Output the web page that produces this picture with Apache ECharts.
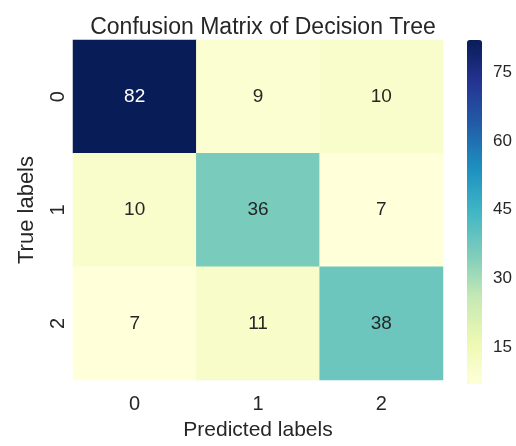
<!DOCTYPE html>
<html>
<head>
<meta charset="utf-8">
<script src="https://cdn.jsdelivr.net/npm/echarts@6/dist/echarts.min.js"></script>
<style>
  html, body { margin: 0; padding: 0; background: #fff; }
  #chart { width: 516px; height: 446px; }
</style>
</head>
<body>
<div id="chart"></div>
<script>
// confusion matrix values, rows = true label, cols = predicted label
const predictedLabels = ['0', '1', '2'];
const trueLabels = ['0', '1', '2'];
const matrix = [
  [82, 9, 10],
  [10, 36, 7],
  [7, 11, 38]
];
const colorbarTicks = [15, 30, 45, 60, 75];
const ylgnbu = ['#ffffd9', '#edf8b1', '#c7e9b4', '#7fcdbb', '#41b6c4', '#1d91c0', '#225ea8', '#253494', '#081d58'];

const vmin = 7, vmax = 82;
const textColor = '#262626';
const font = 'Liberation Sans, Arial, sans-serif';

const cells = [];
matrix.forEach((row, r) => {
  row.forEach((v, c) => {
    cells.push({
      value: [c, r, v],
      label: { color: v > 60 ? '#ffffff' : textColor }
    });
  });
});

const chart = echarts.init(document.getElementById('chart'));
chart.setOption({
  animation: false,
  title: {
    text: 'Confusion Matrix of Decision Tree',
    left: 258,
    textAlign: 'center',
    top: 11,
    textStyle: { fontFamily: font, fontSize: 23, fontWeight: 'normal', color: textColor }
  },
  grid: [
    { left: 73, right: 73, top: 40, bottom: 62 },
    { left: 467, width: 15, top: 40, bottom: 62 }
  ],
  xAxis: [
    {
      type: 'category',
      data: predictedLabels,
      gridIndex: 0,
      name: 'Predicted labels',
      nameLocation: 'middle',
      nameGap: 40,
      nameTextStyle: { fontFamily: font, fontSize: 21, color: textColor },
      axisLine: { show: false },
      axisTick: { show: false },
      splitLine: { show: false },
      axisLabel: { fontFamily: font, fontSize: 20, color: textColor, margin: 14 }
    },
    { type: 'value', gridIndex: 1, show: false }
  ],
  yAxis: [
    {
      type: 'category',
      data: trueLabels,
      inverse: true,
      gridIndex: 0,
      name: 'True labels',
      nameLocation: 'middle',
      nameGap: 35,
      nameTextStyle: { fontFamily: font, fontSize: 22, color: textColor },
      axisLine: { show: false },
      axisTick: { show: false },
      splitLine: { show: false },
      axisLabel: { fontFamily: font, fontSize: 20, color: textColor, rotate: 90, margin: 5 }
    },
    {
      type: 'value',
      gridIndex: 1,
      position: 'right',
      min: vmin,
      max: vmax,
      axisLine: { show: false },
      axisTick: { show: false },
      splitLine: { show: false },
      axisLabel: {
        customValues: colorbarTicks,
        fontFamily: font, fontSize: 17, color: textColor, margin: 11
      }
    }
  ],
  visualMap: {
    type: 'continuous',
    min: vmin,
    max: vmax,
    seriesIndex: 0,
    calculable: false,
    left: 467,
    top: 40,
    padding: 0,
    itemWidth: 15,
    itemHeight: 344,
    text: ['', ''],
    inRange: { color: ylgnbu }
  },
  series: [{
    type: 'heatmap',
    xAxisIndex: 0,
    yAxisIndex: 0,
    data: cells,
    label: { show: true, fontFamily: font, fontSize: 19 },
    itemStyle: { borderWidth: 0 }
  }]
});
</script>
</body>
</html>
